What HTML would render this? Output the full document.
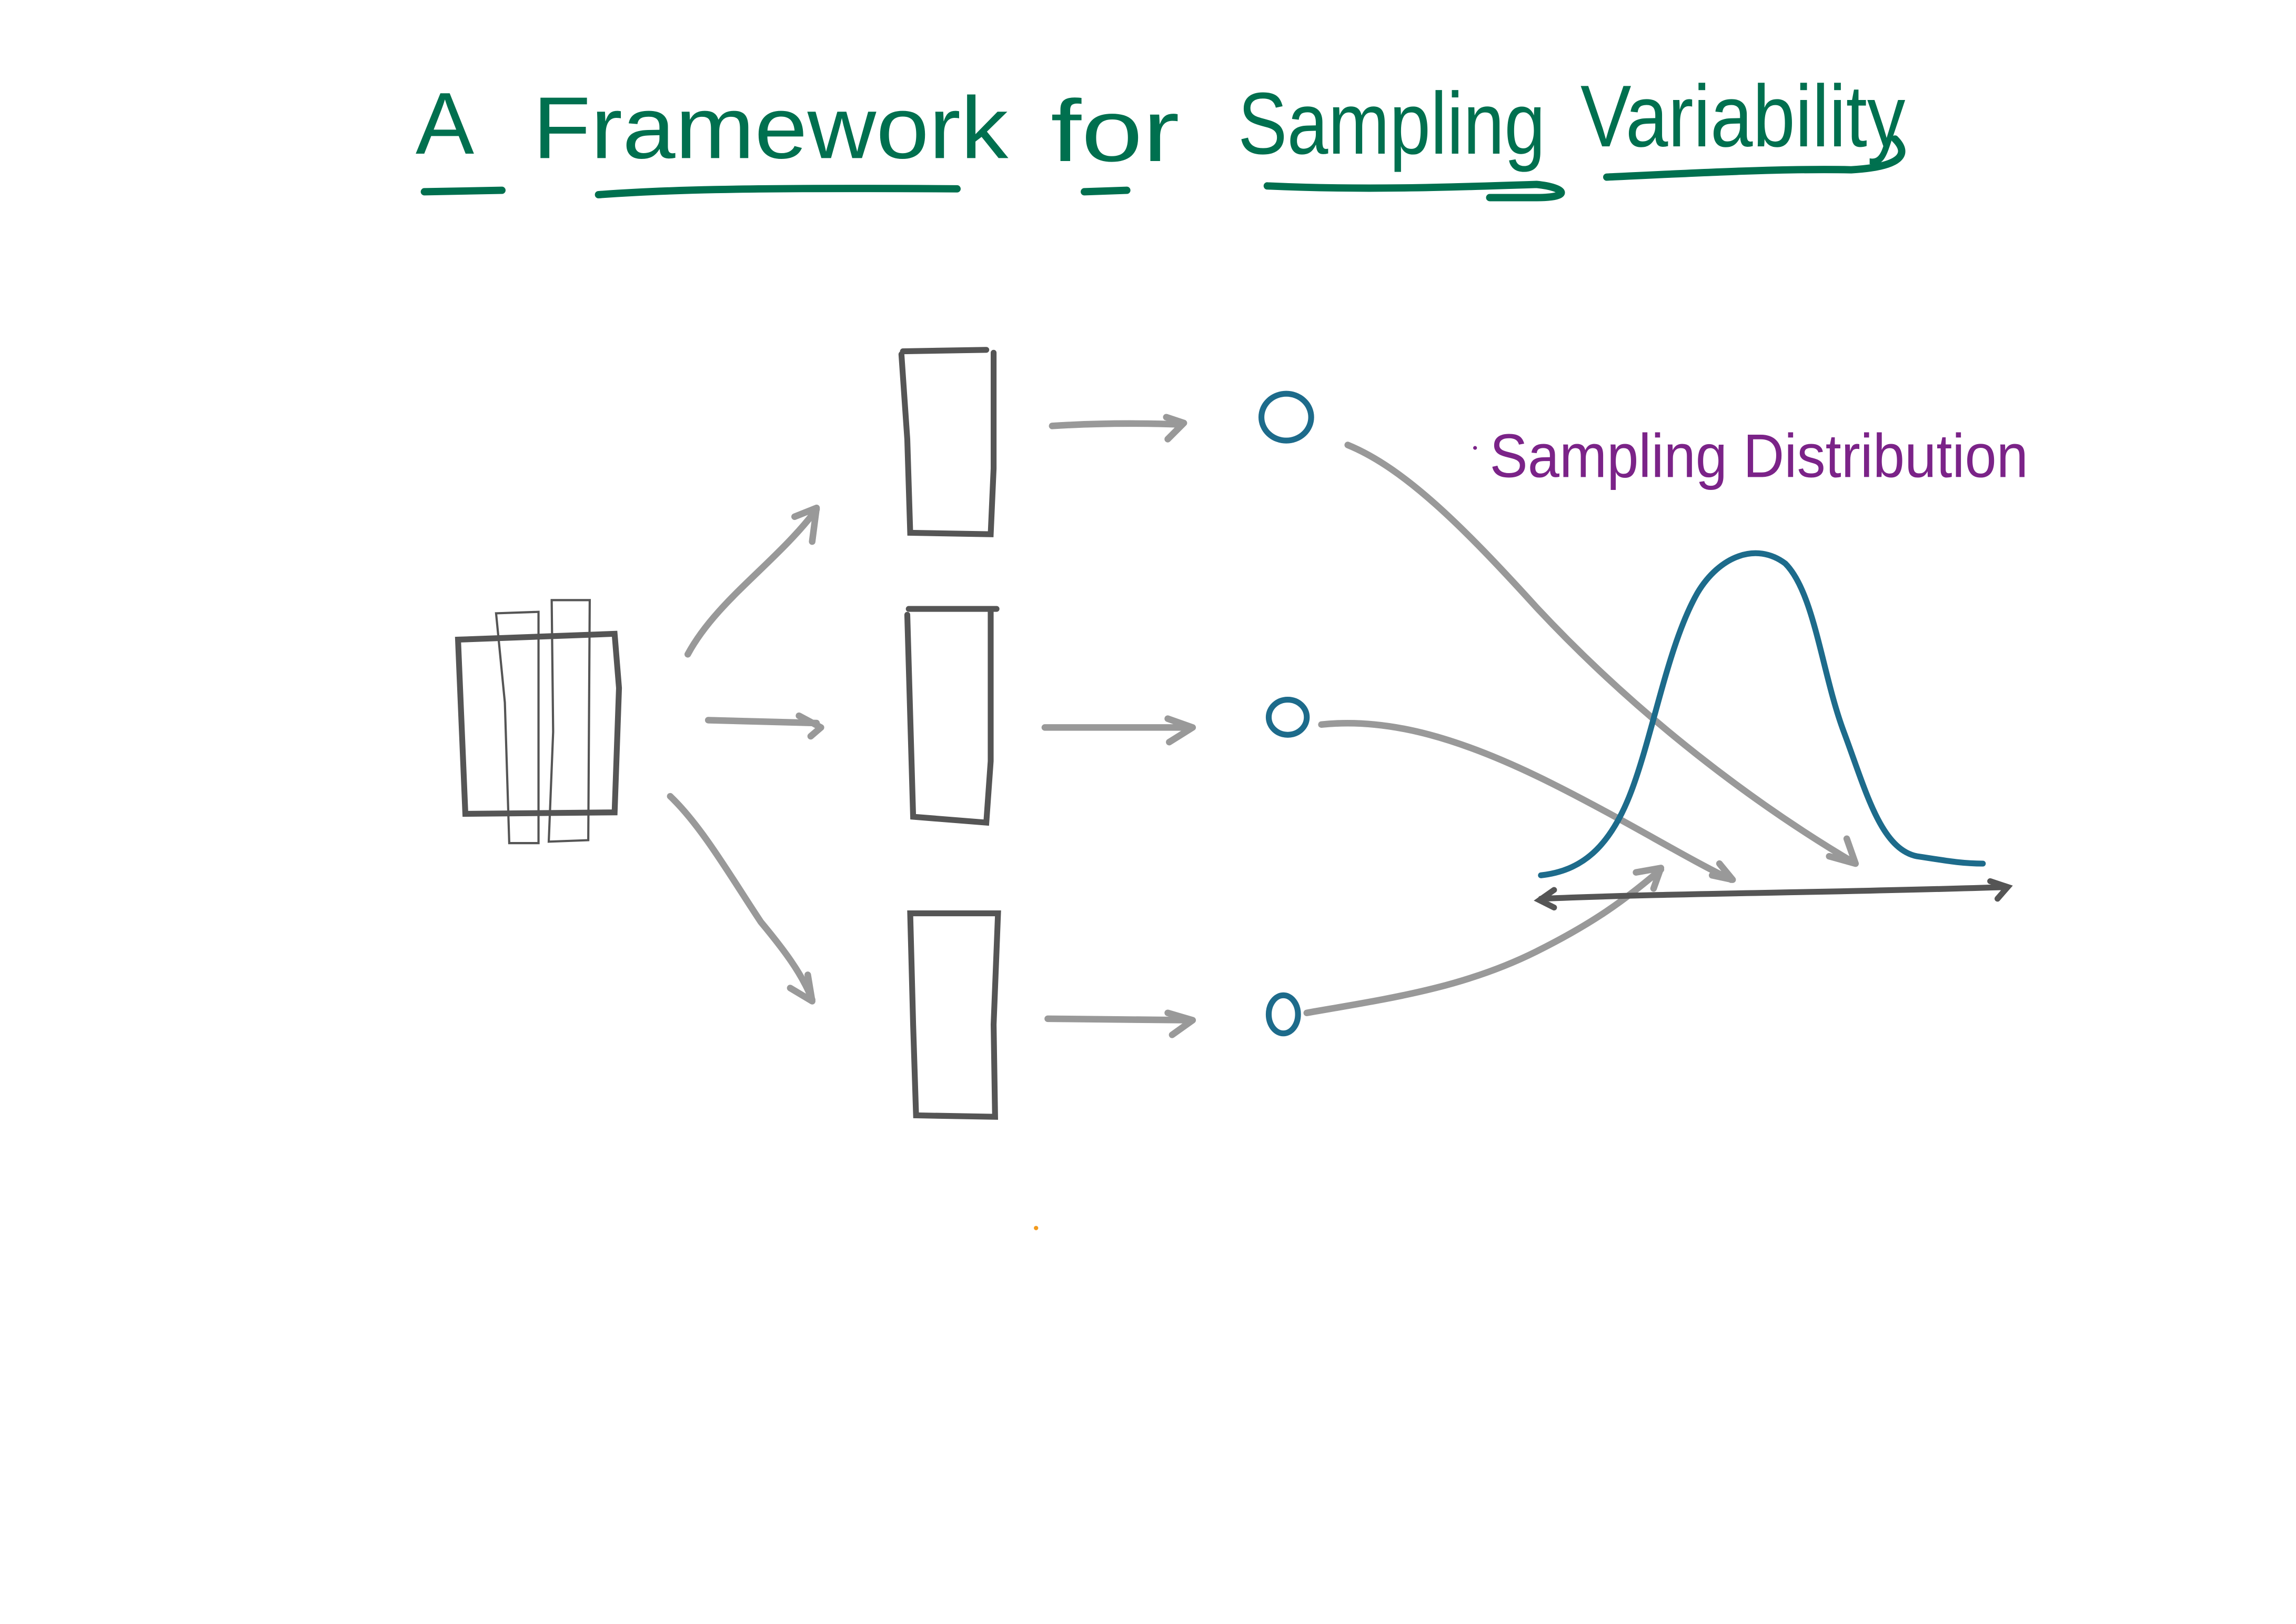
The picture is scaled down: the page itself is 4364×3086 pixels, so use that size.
<!DOCTYPE html>
<html><head><meta charset="utf-8"><style>
html,body{margin:0;padding:0;background:#fff;}
svg{display:block;}
</style></head><body>
<svg width="4364" height="3086" viewBox="0 0 1569 1109.5" xmlns="http://www.w3.org/2000/svg">
<rect width="1569" height="1109.5" fill="#fff"/>
<!-- Title -->
<g fill="#00704f" font-family="Liberation Sans, sans-serif" font-size="60">
<text x="284" y="105" textLength="40" lengthAdjust="spacingAndGlyphs">A</text>
<text x="364" y="108" textLength="325" lengthAdjust="spacingAndGlyphs">Framework</text>
<text x="718" y="110" textLength="88" lengthAdjust="spacingAndGlyphs">for</text>
<text x="846" y="105" textLength="210" lengthAdjust="spacingAndGlyphs">Sampling</text>
<text x="1080" y="100" textLength="222" lengthAdjust="spacingAndGlyphs">Variability</text>
</g>
<g stroke="#00704f" stroke-width="5" stroke-linecap="round" fill="none">
<path d="M290 131 L343 130"/>
<path d="M409 133 C450 130 500 128 654 129"/>
<path d="M741 131 L770 130"/>
<path d="M866 127 C930 130 990 128 1050 126 C1070 128 1075 135 1050 135 L1018 135"/>
<path d="M1098 121 C1160 118 1220 115 1265 116 C1300 114 1305 105 1295 95"/>
</g>
<!-- Sampling Distribution -->
<text x="1018" y="326" fill="#7b2388" font-family="Liberation Sans, sans-serif" font-size="42" textLength="368" lengthAdjust="spacingAndGlyphs">Sampling Distribution</text>
<circle cx="1008" cy="306" r="1.3" fill="#7b2388"/>
<!-- population -->
<g stroke="#555" fill="none" stroke-linecap="round">
<path d="M313 437 L420 433 L423 470 L420 555 L318 556 Z" stroke-width="4"/>
<path d="M339 419 L368 418 L368 576 L348 576 L345 480 Z" stroke-width="1.5"/>
<path d="M377 410 L403 410 L402 574 L375 575 L378 500 Z" stroke-width="1.5"/>
</g>
<!-- samples -->
<g stroke="#555" stroke-width="4" fill="none" stroke-linecap="round">
<path d="M617 240 L674 239 M679 241 L679 320 L677 365 L622 364 L620 300 L616 242"/>
<path d="M621 416 L681 416 M677 418 L677 520 L674 562 L624 558 L620 420"/>
<path d="M622 624 L682 624 L679 700 L680 763 L626 762 L624 700 Z"/>
</g>
<!-- arrows -->
<g stroke="#999" stroke-width="4.5" fill="none" stroke-linecap="round" stroke-linejoin="round">
<path d="M470 447 C490 410 530 385 558 348 M543 353 L558 347 L555 370"/>
<path d="M484 492 L558 494 M546 489 L561 497 L554 503"/>
<path d="M458 544 C480 565 500 600 520 630 C535 648 548 665 555 683 M540 675 L555 684 L552 666"/>
<path d="M719 291 C750 289 780 289 808 290 M797 285 L809 289 L798 300"/>
<path d="M714 497 L815 497 M798 491 L815 497 L799 507"/>
<path d="M716 696 L815 697 M798 692 L815 697 L801 707"/>
<path d="M921 304 C960 320 1000 360 1050 415 C1120 490 1200 550 1268 590 M1250 585 L1268 590 L1262 573"/>
<path d="M903 495 C950 490 1000 505 1060 535 C1110 560 1150 585 1183 601 M1170 598 L1184 601 L1175 590"/>
<path d="M893 692 C950 682 1000 675 1050 650 C1090 630 1110 615 1135 594 M1118 596 L1135 593 L1130 607"/>
</g>
<!-- circles -->
<g stroke="#1d6b8b" stroke-width="4" fill="none">
<ellipse cx="879" cy="285" rx="17" ry="16"/>
<ellipse cx="880" cy="490" rx="13" ry="12"/>
<ellipse cx="877" cy="693" rx="10" ry="13"/>
</g>
<!-- axis -->
<g stroke="#555" stroke-width="4" fill="none" stroke-linecap="round">
<path d="M1053 614 C1150 610 1250 610 1372 606 M1062 608 L1052 615 L1062 620 M1360 602 L1372 606 L1365 614"/>
</g>
<!-- bell -->
<path d="M1053 598 C1080 595 1100 580 1115 540 C1130 500 1140 440 1160 405 C1175 380 1200 370 1220 385 C1240 405 1245 460 1260 500 C1275 540 1285 580 1310 585 C1330 588 1340 590 1355 590" stroke="#1d6b8b" stroke-width="4" fill="none" stroke-linecap="round"/>
<circle cx="708" cy="839" r="1.5" fill="#f29a1d"/>
</svg>
</body></html>
